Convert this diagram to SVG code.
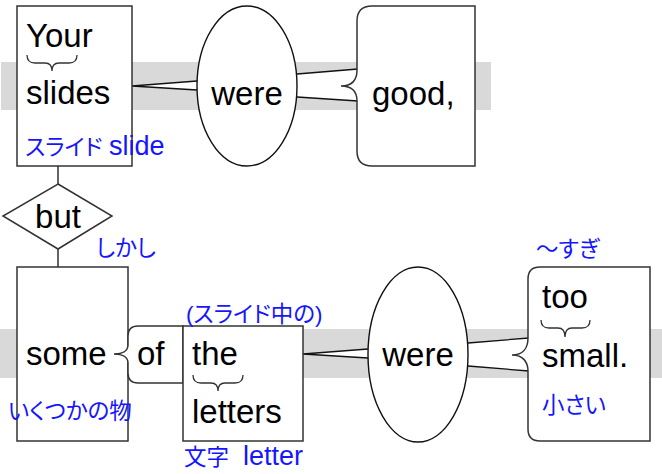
<svg xmlns="http://www.w3.org/2000/svg" width="662" height="474" viewBox="0 0 662 474">
<style>
.band{fill:#d9d9d9}
.box{fill:#fff;stroke:#333;stroke-width:1.5}
.oval{fill:#fff;stroke:#111;stroke-width:1.4}
.wfill{fill:#fff;stroke:none}
.ln{fill:none;stroke:#111;stroke-width:1.3}
.brace{fill:none;stroke:#333;stroke-width:1.3}
.w{font-family:"Liberation Sans",Arial,sans-serif;font-size:33px;fill:#000}
.j{font-family:"Liberation Sans","Noto Sans CJK JP",sans-serif;font-size:22.5px;fill:#1515ff;font-feature-settings:"palt" 1}
.lat{font-size:27px}
.m{text-anchor:middle}
</style>
<rect class="band" x="1" y="62" width="490" height="48"/>
<rect class="band" x="0" y="329" width="662" height="49"/>
<g id="connectors">
<path class="wfill" d="M197,81 L132,86 L197,90 Z"/>
<path class="ln" d="M197,81 L132,86 L197,90"/>
<polygon class="wfill" points="297,74 358,69 358,101 297,97"/>
<path class="ln" d="M297,74 L358,69 M358,101 L297,97"/>
<path class="ln" d="M58,166 L58,184 M58,249 L58,267"/>
<path class="wfill" d="M368,349 L303,354 L368,358 Z"/>
<path class="ln" d="M368,349 L303,354 L368,358"/>
<polygon class="wfill" points="468,343 529,338 529,371 468,366"/>
<path class="ln" d="M468,343 L529,338 M529,371 L468,366"/>
</g>
<g id="your-slides">
<rect class="box" x="17" y="6" width="115" height="160"/>
<text class="w" x="26" y="47">Your</text>
<path class="brace" d="M27,55 Q27,63 35,63 L45,63 Q52,63 52,71 Q52,63 59,63 L69,63 Q77,63 77,55"/>
<text class="w" x="26" y="104">slides</text>
<text class="j" x="25" y="155">スライド<tspan class="lat" x="109">slide</tspan></text>
</g>
<g id="were1">
<ellipse class="oval" cx="247" cy="86" rx="50" ry="80"/>
<text class="w m" x="247" y="105">were</text>
</g>
<g id="good">
<path class="box" d="M372,6 L475,6 L475,166 L372,166 Q357,166 357,151 L357,101 C357,92 352,86 341,86 C352,86 357,80 357,70 L357,21 Q357,6 372,6 Z"/>
<text class="w" x="372" y="105">good,</text>
</g>
<g id="but">
<polygon class="box" points="58,184 112,216 58,249 3,216"/>
<text class="w m" x="58" y="228">but</text>
<text class="j" x="96" y="256">しかし</text>
</g>
<g id="some">
<rect class="box" x="17" y="267" width="111" height="174"/>
<text class="w" x="26" y="365">some</text>
<text class="j" x="8" y="419">いくつかの物</text>
</g>
<g id="of">
<path class="box" d="M183,326 L138,326 Q128,326 128,336 L128,345 C128,351 122,354 114,354 C122,354 128,357 128,363 L128,373 Q128,383 138,383 L183,383 Z"/>
<text class="w" x="137" y="365">of</text>
</g>
<g id="the-letters">
<rect class="box" x="183" y="326" width="120" height="115"/>
<text class="w" x="192" y="365">the</text>
<path class="brace" d="M193,375 Q193,383 201,383 L211,383 Q218,383 218,391 Q218,383 225,383 L235,383 Q243,383 243,375"/>
<text class="w" x="192" y="423">letters</text>
<text class="j" x="186" y="322">(スライド中の)</text>
<text class="j" x="184" y="465">文字<tspan class="lat" x="243">letter</tspan></text>
</g>
<g id="were2">
<ellipse class="oval" cx="418" cy="354.5" rx="50" ry="87.5"/>
<text class="w m" x="418" y="366">were</text>
</g>
<g id="too-small">
<path class="box" d="M540,267 L650,267 L650,441 L540,441 Q528,441 528,429 L528,371 C528,362 523,355 512,355 C523,355 528,348 528,338 L528,279 Q528,267 540,267 Z"/>
<text class="w" x="542" y="308">too</text>
<path class="brace" d="M541,320 Q541,328 549,328 L558,328 Q565,328 565,337 Q565,328 572,328 L582,328 Q590,328 590,320"/>
<text class="w" x="542" y="367">small.</text>
<text class="j" x="542" y="413">小さい</text>
<text class="j" x="536" y="257">～すぎ</text>
</g>
</svg>
